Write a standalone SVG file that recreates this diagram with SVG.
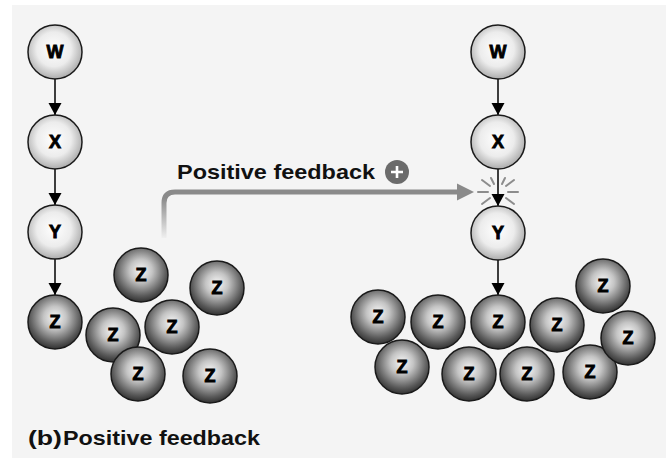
<svg xmlns="http://www.w3.org/2000/svg" width="668" height="458" viewBox="0 0 668 458">
<style>
.lt{fill:url(#gl);stroke:#1a1a1a;stroke-width:1.5}
.dk{fill:url(#gd);stroke:#1a1a1a;stroke-width:1.5}
.lb{font-family:"Liberation Sans",Arial,sans-serif;font-weight:bold;font-size:18px;text-anchor:middle;fill:#000;stroke:#000;stroke-width:0.9}
.cn{stroke:#000;stroke-width:1.5;fill:none;marker-end:url(#ah)}
.ray{stroke:#8c8c8c;stroke-width:2;stroke-linecap:round}
.tt{font-family:"Liberation Sans",Arial,sans-serif;font-weight:bold;font-size:21px;fill:#111}
</style>
<defs>
<radialGradient id="gl" cx="48%" cy="45%" r="58%">
<stop offset="0" stop-color="#ffffff"/>
<stop offset="0.55" stop-color="#ececec"/>
<stop offset="1" stop-color="#a4a4a4"/>
</radialGradient>
<radialGradient id="gd" cx="50%" cy="42%" r="60%">
<stop offset="0" stop-color="#f8f8f8"/>
<stop offset="0.35" stop-color="#c4c4c4"/>
<stop offset="0.78" stop-color="#5a5a5a"/>
<stop offset="1" stop-color="#2a2a2a"/>
</radialGradient>
<linearGradient id="fb" gradientUnits="userSpaceOnUse" x1="0" y1="198" x2="0" y2="240">
<stop offset="0" stop-color="#8a8a8a"/>
<stop offset="1" stop-color="#f4f4f4"/>
</linearGradient>
<marker id="ah" viewBox="0 0 12 16" refX="12" refY="8" markerWidth="12" markerHeight="16" markerUnits="userSpaceOnUse" orient="auto">
<path d="M0,1.5 L12,8 L0,14.5 Z" fill="#000"/>
</marker>
</defs>
<rect x="12" y="5" width="654" height="453" fill="#f4f4f4"/>

<g id="connectors">
<line class="cn" x1="55" y1="79" x2="55" y2="115"/>
<line class="cn" x1="55" y1="169" x2="55" y2="205"/>
<line class="cn" x1="55" y1="259" x2="55" y2="295"/>
<line class="cn" x1="498" y1="79" x2="498" y2="115"/>
<line class="cn" x1="498" y1="169" x2="498" y2="206"/>
<line class="cn" x1="498" y1="260" x2="498" y2="295"/>
<g id="feedback-arrow">
<path d="M164,238 V203 Q164,192 175,192 H459" fill="none" stroke="url(#fb)" stroke-width="5"/>
<polygon points="457,183.5 474,192 457,200.5" fill="#8a8a8a"/>
</g>
</g>

<g id="starburst">
<line class="ray" x1="488" y1="192" x2="478" y2="192"/>
<line class="ray" x1="508" y1="192" x2="518" y2="192"/>
<line class="ray" x1="490" y1="186" x2="482" y2="180"/>
<line class="ray" x1="506" y1="186" x2="514" y2="180"/>
<line class="ray" x1="490" y1="198" x2="482" y2="204"/>
<line class="ray" x1="506" y1="198" x2="514" y2="204"/>
<line class="ray" x1="494" y1="184" x2="491" y2="178"/>
<line class="ray" x1="502" y1="184" x2="505" y2="178"/>
</g>

<g id="label-feedback">
<text class="tt" x="177" y="179" textLength="198" lengthAdjust="spacingAndGlyphs">Positive feedback</text>
<circle cx="397" cy="172" r="12" fill="#6b6b6b"/>
<path d="M391,172 H403 M397,166 V178" stroke="#fff" stroke-width="2.6"/>
</g>

<g id="W1"><circle class="lt" cx="55" cy="52" r="27"/><text class="lb" x="55" y="58">W</text></g>
<g id="X1"><circle class="lt" cx="55" cy="142" r="27"/><text class="lb" x="55" y="148">X</text></g>
<g id="Y1"><circle class="lt" cx="55" cy="232" r="27"/><text class="lb" x="55" y="238">Y</text></g>
<g id="Z1"><circle class="dk" cx="55" cy="322" r="27"/><text class="lb" x="55" y="328">Z</text></g>

<g id="LZ1"><circle class="dk" cx="141" cy="275" r="27"/><text class="lb" x="141" y="281">Z</text></g>
<g id="LZ2"><circle class="dk" cx="217" cy="288" r="27"/><text class="lb" x="217" y="294">Z</text></g>
<g id="LZ3"><circle class="dk" cx="172" cy="327" r="27"/><text class="lb" x="172" y="333">Z</text></g>
<g id="LZ4"><circle class="dk" cx="113" cy="335" r="27"/><text class="lb" x="113" y="341">Z</text></g>
<g id="LZ5"><circle class="dk" cx="138" cy="374" r="27"/><text class="lb" x="138" y="380">Z</text></g>
<g id="LZ6"><circle class="dk" cx="210" cy="376" r="27"/><text class="lb" x="210" y="382">Z</text></g>

<g id="W2"><circle class="lt" cx="498" cy="52" r="27"/><text class="lb" x="498" y="58">W</text></g>
<g id="X2"><circle class="lt" cx="498" cy="142" r="27"/><text class="lb" x="498" y="148">X</text></g>
<g id="Y2"><circle class="lt" cx="498" cy="233" r="27"/><text class="lb" x="498" y="239">Y</text></g>

<g id="RZ1"><circle class="dk" cx="378" cy="317" r="27"/><text class="lb" x="378" y="323">Z</text></g>
<g id="RZ2"><circle class="dk" cx="438" cy="322" r="27"/><text class="lb" x="438" y="328">Z</text></g>
<g id="RZ3"><circle class="dk" cx="498" cy="322" r="27"/><text class="lb" x="498" y="328">Z</text></g>
<g id="RZ4"><circle class="dk" cx="557" cy="325" r="27"/><text class="lb" x="557" y="331">Z</text></g>
<g id="RZ5"><circle class="dk" cx="603" cy="286" r="27"/><text class="lb" x="603" y="292">Z</text></g>
<g id="RZ7"><circle class="dk" cx="402" cy="367" r="27"/><text class="lb" x="402" y="373">Z</text></g>
<g id="RZ8"><circle class="dk" cx="469" cy="374" r="27"/><text class="lb" x="469" y="380">Z</text></g>
<g id="RZ9"><circle class="dk" cx="527" cy="374" r="27"/><text class="lb" x="527" y="380">Z</text></g>
<g id="RZ10"><circle class="dk" cx="590" cy="372" r="27"/><text class="lb" x="590" y="378">Z</text></g>
<g id="RZ6"><circle class="dk" cx="628" cy="338" r="27"/><text class="lb" x="628" y="344">Z</text></g>

<g id="caption">
<text class="tt" x="28" y="445" textLength="34" lengthAdjust="spacingAndGlyphs">(b)</text>
<text class="tt" x="63" y="445" textLength="197" lengthAdjust="spacingAndGlyphs">Positive feedback</text>
</g>
</svg>
